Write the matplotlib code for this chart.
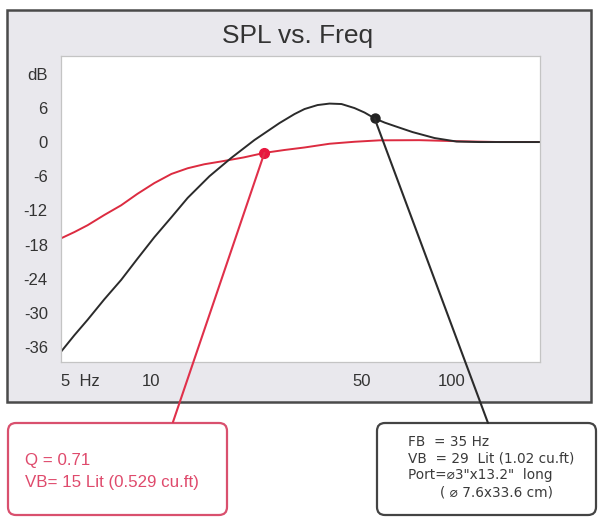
import matplotlib
matplotlib.use("Agg")
import matplotlib.pyplot as plt
from matplotlib.patches import FancyBboxPatch, Rectangle, ConnectionPatch
from matplotlib.ticker import NullLocator

# ---------------- data ----------------
freq_red = [5.0, 5.54, 6.13, 6.97, 7.93, 8.98, 10.23, 11.66, 13.21, 15.0, 17.1, 20.3,
            23.8, 27.7, 32.4, 39.2, 47.5, 57.5, 78.1, 103.9, 144, 197]
spl_red = [-16.9, -15.8, -14.6, -12.8, -11.1, -9.1, -7.2, -5.6, -4.6, -3.9, -3.4, -2.7,
           -1.9, -1.4, -0.95, -0.3, 0.05, 0.3, 0.33, 0.15, 0.0, 0.0]

freq_black = [5.0, 5.54, 6.13, 6.97, 7.93, 8.98, 10.23, 11.66, 13.21, 15.61, 18.44,
              22.04, 26.71, 29.97, 32.36, 35.76, 39.21, 42.99, 47.5, 51.29, 55.4,
              59.8, 64.6, 74.1, 87.8, 103.9, 124, 197]
spl_black = [-36.8, -33.9, -31.2, -27.6, -24.2, -20.5, -16.7, -13.2, -9.8, -6.0, -2.8,
             0.35, 3.33, 4.91, 5.79, 6.49, 6.75, 6.67, 5.96, 5.18, 4.16,
             3.42, 2.81, 1.75, 0.70, 0.09, 0.0, 0.0]

red_dot = (23.8, -1.9)
black_dot = (55.4, 4.16)

x_ticks = [5, 10, 50, 100]
x_labels = ["5  Hz", "10", "50", "100"]
y_ticks = [12, 6, 0, -6, -12, -18, -24, -30, -36]
y_labels = ["dB", "6", "0", "-6", "-12", "-18", "-24", "-30", "-36"]

title = "SPL vs. Freq"
red_box_lines = ["Q = 0.71", "VB= 15 Lit (0.529 cu.ft)"]
black_box_lines = ["FB  = 35 Hz", "VB  = 29  Lit (1.02 cu.ft)",
                   "Port=\u23003\"x13.2\"  long", "( \u2300 7.6x33.6 cm)"]

# ---------------- figure ----------------
W, H = 598, 518
fig = plt.figure(figsize=(W / 100, H / 100), dpi=100)
fig.patch.set_facecolor("white")


def fx(x):
    return x / W


def fy(y):
    return 1 - y / H


# outer gray panel
frame = Rectangle((fx(7), fy(402)), (591 - 7) / W, (402 - 10) / H,
                  transform=fig.transFigure, facecolor="#e9e8ed",
                  edgecolor="#4a4a4a", linewidth=1.8, zorder=-1)
fig.add_artist(frame)

ax = fig.add_axes([fx(61), fy(362), (540 - 61) / W, (362 - 56) / H])
ax.set_facecolor("white")
ax.set_xscale("log")
ax.set_xlim(5, 197)
ax.set_ylim(-38.6, 15.1)

ax.plot(freq_red, spl_red, color="#dc2b40", lw=1.4, solid_capstyle="round",
        solid_joinstyle="round")
ax.plot(freq_black, spl_black, color="#2b2b2b", lw=1.4, solid_capstyle="round",
        solid_joinstyle="round")
ax.plot(*red_dot, "o", color="#e8173f", ms=7, zorder=6)
ax.plot(*black_dot, "o", color="#222222", ms=6.5, zorder=6)

ax.set_xticks(x_ticks)
ax.set_xticklabels(x_labels, fontfamily="Liberation Sans", fontsize=12, color="#333333")
ax.xaxis.set_minor_locator(NullLocator())
ax.set_yticks(y_ticks)
ax.set_yticklabels(y_labels, fontfamily="Liberation Sans", fontsize=12, color="#333333")
ax.tick_params(axis="x", length=0, pad=8.5)
ax.tick_params(axis="y", length=0, pad=9.5)
ax.get_xticklabels()[0].set_horizontalalignment("left")
for s in ax.spines.values():
    s.set_color("#c4c4c4")
    s.set_linewidth(0.9)

fig.text(fx(298), fy(43), title, ha="center", va="baseline",
         fontsize=19, color="#333333", fontfamily="Liberation Sans")

# annotation boxes (inches via dpi_scale_trans)
red_box = FancyBboxPatch((0.08, (H - 515) / 100), 2.19, 0.92,
                         boxstyle="round,pad=0,rounding_size=0.08",
                         transform=fig.dpi_scale_trans, facecolor="white",
                         edgecolor="#d9506e", linewidth=1.6, zorder=3)
fig.add_artist(red_box)
black_box = FancyBboxPatch((3.77, (H - 515) / 100), 2.19, 0.92,
                           boxstyle="round,pad=0,rounding_size=0.08",
                           transform=fig.dpi_scale_trans, facecolor="white",
                           edgecolor="#444444", linewidth=1.6, zorder=3)
fig.add_artist(black_box)

# connector lines
con_r = ConnectionPatch(xyA=red_dot, coordsA=ax.transData,
                        xyB=(fx(173), fy(422)), coordsB=fig.transFigure,
                        color="#e0304a", lw=1.5, zorder=5)
fig.add_artist(con_r)
con_b = ConnectionPatch(xyA=black_dot, coordsA=ax.transData,
                        xyB=(fx(488), fy(423)), coordsB=fig.transFigure,
                        color="#2b2b2b", lw=1.5, zorder=5)
fig.add_artist(con_b)

# box texts
for line, yy in zip(red_box_lines, [460, 482]):
    fig.text(fx(25), fy(yy), line, ha="left", va="center", fontsize=12.2,
             color="#df4a6c", fontfamily="Liberation Sans", zorder=6)

for line, yy, xx in zip(black_box_lines, [442, 458, 475, 493], [408, 408, 408, 440]):
    fig.text(fx(xx), fy(yy), line, ha="left", va="center", fontsize=9.8,
             color="#3a3a3a", fontfamily="DejaVu Sans", zorder=6)

fig.savefig("out.png", dpi=100)
